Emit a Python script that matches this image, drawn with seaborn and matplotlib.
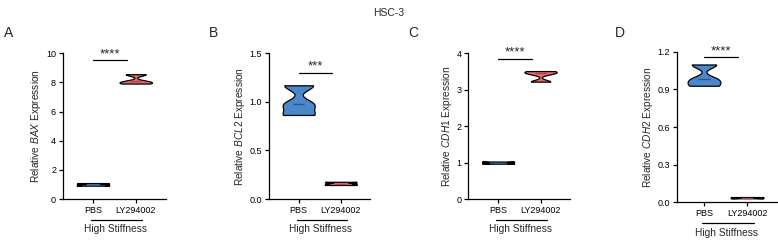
import numpy as np
import pandas as pd
import seaborn as sns
import matplotlib.pyplot as plt
import matplotlib.transforms as mtransforms

# Data (3 replicates per group)
groups = ['PBS', 'LY294002']
genes = ['BAX', 'BCL2', 'CDH1', 'CDH2']
panel_letters = ['A', 'B', 'C', 'D']
pbs_values = [[0.92, 1.00, 1.10],
              [0.865, 0.975, 1.17],
              [0.97, 1.00, 1.03],
              [0.93, 0.98, 1.10]]
ly_values = [[7.92, 8.06, 8.56],
             [0.145, 0.160, 0.178],
             [3.22, 3.45, 3.51],
             [0.030, 0.035, 0.040]]
stars = ['****', '***', '****', '****']
yticks = [[0, 2, 4, 6, 8, 10],
          [0.0, 0.5, 1.0, 1.5],
          [0, 1, 2, 3, 4],
          [0.0, 0.3, 0.6, 0.9, 1.2]]
ytick_fmt = ['{:.0f}', '{:.1f}', '{:.0f}', '{:.1f}']
sig_y = [9.5, 1.30, 3.85, 1.16]

palette = {'PBS': '#4a88cb', 'LY294002': '#e96a6c'}
median_color = {'PBS': '#2f5683', 'LY294002': '#a8474a'}

sns.set_theme(style='ticks')
plt.rcParams['font.family'] = ['Liberation Sans', 'DejaVu Sans']
plt.rcParams['mathtext.fontset'] = 'custom'
plt.rcParams['mathtext.rm'] = 'Liberation Sans'
plt.rcParams['mathtext.it'] = 'Liberation Sans:italic'

fig = plt.figure(figsize=(7.78, 2.44), dpi=100)

# axes boxes [left, bottom, width, height] in figure fraction
boxes = [[0.081, 0.184, 0.132, 0.598],
         [0.346, 0.184, 0.130, 0.598],
         [0.602, 0.184, 0.131, 0.598],
         [0.870, 0.172, 0.129, 0.615]]
xlims = [(-0.7, 1.7), (-0.7, 1.7), (-0.7, 1.7), (-0.63, 1.7)]

for i in range(4):
    ax = fig.add_axes(boxes[i])
    df = pd.DataFrame({
        'group': ['PBS'] * 3 + ['LY294002'] * 3,
        'value': pbs_values[i] + ly_values[i],
    })
    sns.violinplot(data=df, x='group', y='value', hue='group', order=groups,
                   palette=palette, legend=False, cut=0, inner=None,
                   density_norm='width', width=0.76, bw_adjust=0.4,
                   linewidth=0.9, linecolor='black', saturation=1, ax=ax)
    # median lines
    for j, g in enumerate(groups):
        med = np.median(df.loc[df.group == g, 'value'])
        ax.hlines(med, j - 0.13, j + 0.13, color=median_color[g], lw=1.0, zorder=5)

    ax.set_xlim(*xlims[i])
    ax.set_ylim(yticks[i][0], yticks[i][-1])
    ax.set_yticks(yticks[i])
    ax.set_yticklabels([ytick_fmt[i].format(v) for v in yticks[i]], fontsize=6.5)
    ax.set_xticks([0, 1])
    ax.set_xticklabels(groups, fontsize=6.5)
    ax.set_xlabel('')
    ax.set_ylabel('Relative $\\it{' + genes[i] + '}$ Expression', fontsize=7.3, labelpad=2)
    ax.tick_params(length=3, width=0.9, pad=2, colors='black')
    for s in ['top', 'right']:
        ax.spines[s].set_visible(False)
    for s in ['left', 'bottom']:
        ax.spines[s].set_linewidth(0.9)
        ax.spines[s].set_color('black')

    # significance bar
    ax.plot([0, 0.8], [sig_y[i], sig_y[i]], color='black', lw=0.9, clip_on=False)
    ax.text(0.4, sig_y[i], stars[i], ha='center', va='bottom', fontsize=9.5)

    # group bracket under the tick labels
    trans = mtransforms.blended_transform_factory(ax.transData, ax.transAxes)
    ax.plot([-0.05, 1.15], [-0.14, -0.14], color='black', lw=0.9,
            transform=trans, clip_on=False)
    ax.text(0.52, -0.17, 'High Stiffness', ha='center', va='top', fontsize=7.3,
            transform=trans)

    # panel letter
    fig.text(boxes[i][0] - (0.076 if i == 0 else 0.077 if i < 3 else 0.08), 0.865,
             panel_letters[i], fontsize=10, ha='left', va='center')

fig.text(0.5, 0.945, 'HSC-3', ha='center', va='center', fontsize=7.5)

fig.savefig('out.png', dpi=100)
